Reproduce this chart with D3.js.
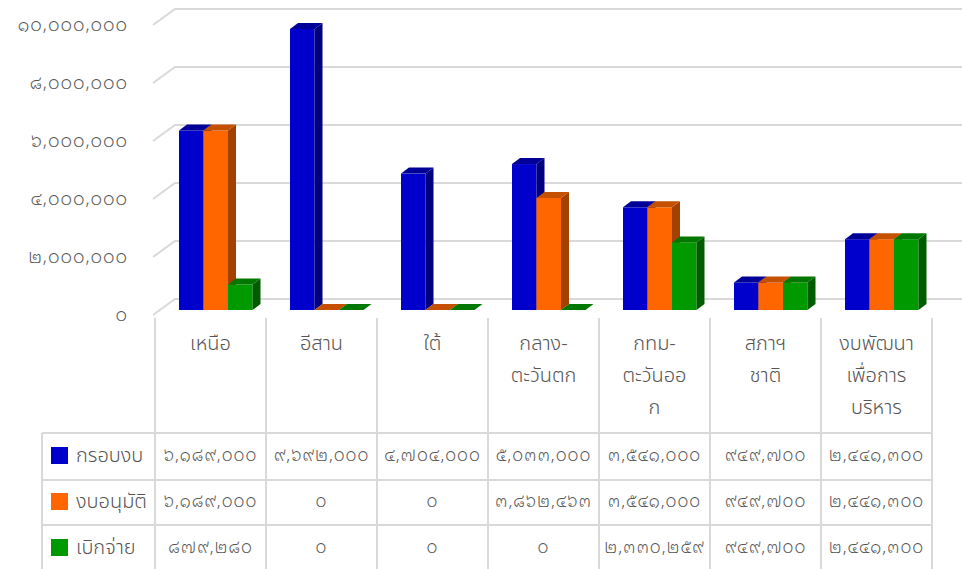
<!DOCTYPE html>
<html><head><meta charset="utf-8">
<script src="https://cdn.jsdelivr.net/npm/d3@7"></script>
<style>body{margin:0;background:#fff}svg{display:block}text{fill:#555}
.num{font-family:"Noto Sans Thai Looped","Noto Sans",sans-serif;font-weight:300;letter-spacing:1px}
.lbl{font-family:"Noto Sans Thai","Noto Sans",sans-serif;font-weight:300}</style>
</head><body><svg id="c" width="962" height="569"></svg>
<script>
const categories = ["เหนือ","อีสาน","ใต้","กลาง-ตะวันตก","กทม-ตะวันออก","สภาฯ ชาติ","งบพัฒนาเพื่อการบริหาร"];
const categoryLines = [["เหนือ"],["อีสาน"],["ใต้"],["กลาง-","ตะวันตก"],["กทม-","ตะวันออ","ก"],["สภาฯ","ชาติ"],["งบพัฒนา","เพื่อการ","บริหาร"]];
const seriesNames = ["กรอบงบ","งบอนุมัติ","เบิกจ่าย"];
const frameBudget = [6189000, 9692000, 4704000, 5033000, 3541000, 949700, 2441300];
const approved = [6189000, 0, 0, 3862463, 3541000, 949700, 2441300];
const disbursed = [879280, 0, 0, 0, 2330259, 949700, 2441300];
const yTicks = [0, 2000000, 4000000, 6000000, 8000000, 10000000];
const seriesValues = [frameBudget, approved, disbursed];
const colors = [
  {front:"#0000cc", top:"#000099", side:"#000080"},
  {front:"#ff6600", top:"#c45000", side:"#a34100"},
  {front:"#009900", top:"#007700", side:"#005c00"}
];

const thaiDigits = "๐๑๒๓๔๕๖๗๘๙";
const toThai = s => String(s).replace(/[0-9]/g, d => thaiDigits[+d]);
const fmt = v => toThai(d3.format(",")(v));

const svg = d3.select("#c");
const y = d3.scaleLinear().domain([0, 10000000]).range([310, 20]);
const x = d3.scaleBand().domain(categories).range([155, 932]).padding(0);
const xi = d3.scaleBand().domain(seriesNames).range([24, 24 + 73.5]).padding(0);
const dx = 8, dy = 6;
const grid = "#d9d9d9";

// gridlines (3D wall)
const g = svg.append("g");
yTicks.forEach(t => {
  const yy = y(t);
  g.append("path").attr("d", `M153,${yy+5}L175,${yy-11}L962,${yy-11}`)
    .attr("fill","none").attr("stroke",grid).attr("stroke-width",2);
});
// y labels
svg.append("g").selectAll("text").data(yTicks).join("text").attr("class","num")
  .attr("x",128).attr("y",t=>y(t)+6).attr("text-anchor","end")
  .attr("dominant-baseline","middle").attr("font-size",18).text(fmt);

// bars
const bars = svg.append("g");
categories.forEach((c, ci) => {
  seriesNames.forEach((s, si) => {
    const v = seriesValues[si][ci];
    const x0 = x(c) + xi(s), w = xi.bandwidth();
    const yt = y(v), y0 = y(0);
    const col = colors[si];
    bars.append("rect").attr("x",x0).attr("y",yt).attr("width",w).attr("height",y0-yt).attr("fill",col.front);
    bars.append("path").attr("d",`M${x0+w},${yt}L${x0+w+dx},${yt-dy}L${x0+w+dx},${y0-dy}L${x0+w},${y0}Z`).attr("fill",col.side);
    bars.append("path").attr("d",`M${x0},${yt}L${x0+dx},${yt-dy}L${x0+w+dx},${yt-dy}L${x0+w},${yt}Z`).attr("fill",col.top);
  });
});

// table
const tb = svg.append("g").attr("stroke",grid).attr("stroke-width",2);
d3.range(categories.length + 1).forEach(i => {
  const xx = 155 + i * x.bandwidth();
  tb.append("line").attr("x1",xx).attr("x2",xx).attr("y1",318).attr("y2",569);
});
tb.append("line").attr("x1",42).attr("x2",42).attr("y1",433).attr("y2",569);
const rowTops = [433, 480, 525];
rowTops.forEach(r => tb.append("line").attr("x1",42).attr("x2",932).attr("y1",r).attr("y2",r));

// category labels
categories.forEach((c, ci) => {
  categoryLines[ci].forEach((ln, li) => {
    svg.append("text").attr("class","lbl").attr("x", x(c) + x.bandwidth()/2).attr("y", 344 + li*32)
      .attr("text-anchor","middle").attr("dominant-baseline","middle").attr("font-size",20).text(ln);
  });
});
// rows
const rowCenters = [456, 502, 548];
seriesNames.forEach((s, si) => {
  svg.append("rect").attr("x",51).attr("y",rowCenters[si]-9).attr("width",17).attr("height",17).attr("fill",colors[si].front);
  svg.append("text").attr("class","lbl").attr("x",76).attr("y",rowCenters[si]).attr("dominant-baseline","middle").attr("font-size",20).text(s);
  categories.forEach((c, ci) => {
    svg.append("text").attr("class","num").attr("x", x(c) + x.bandwidth()/2).attr("y", rowCenters[si])
      .attr("text-anchor","middle").attr("dominant-baseline","middle").attr("font-size",17).text(fmt(seriesValues[si][ci]));
  });
});
</script></body></html>
